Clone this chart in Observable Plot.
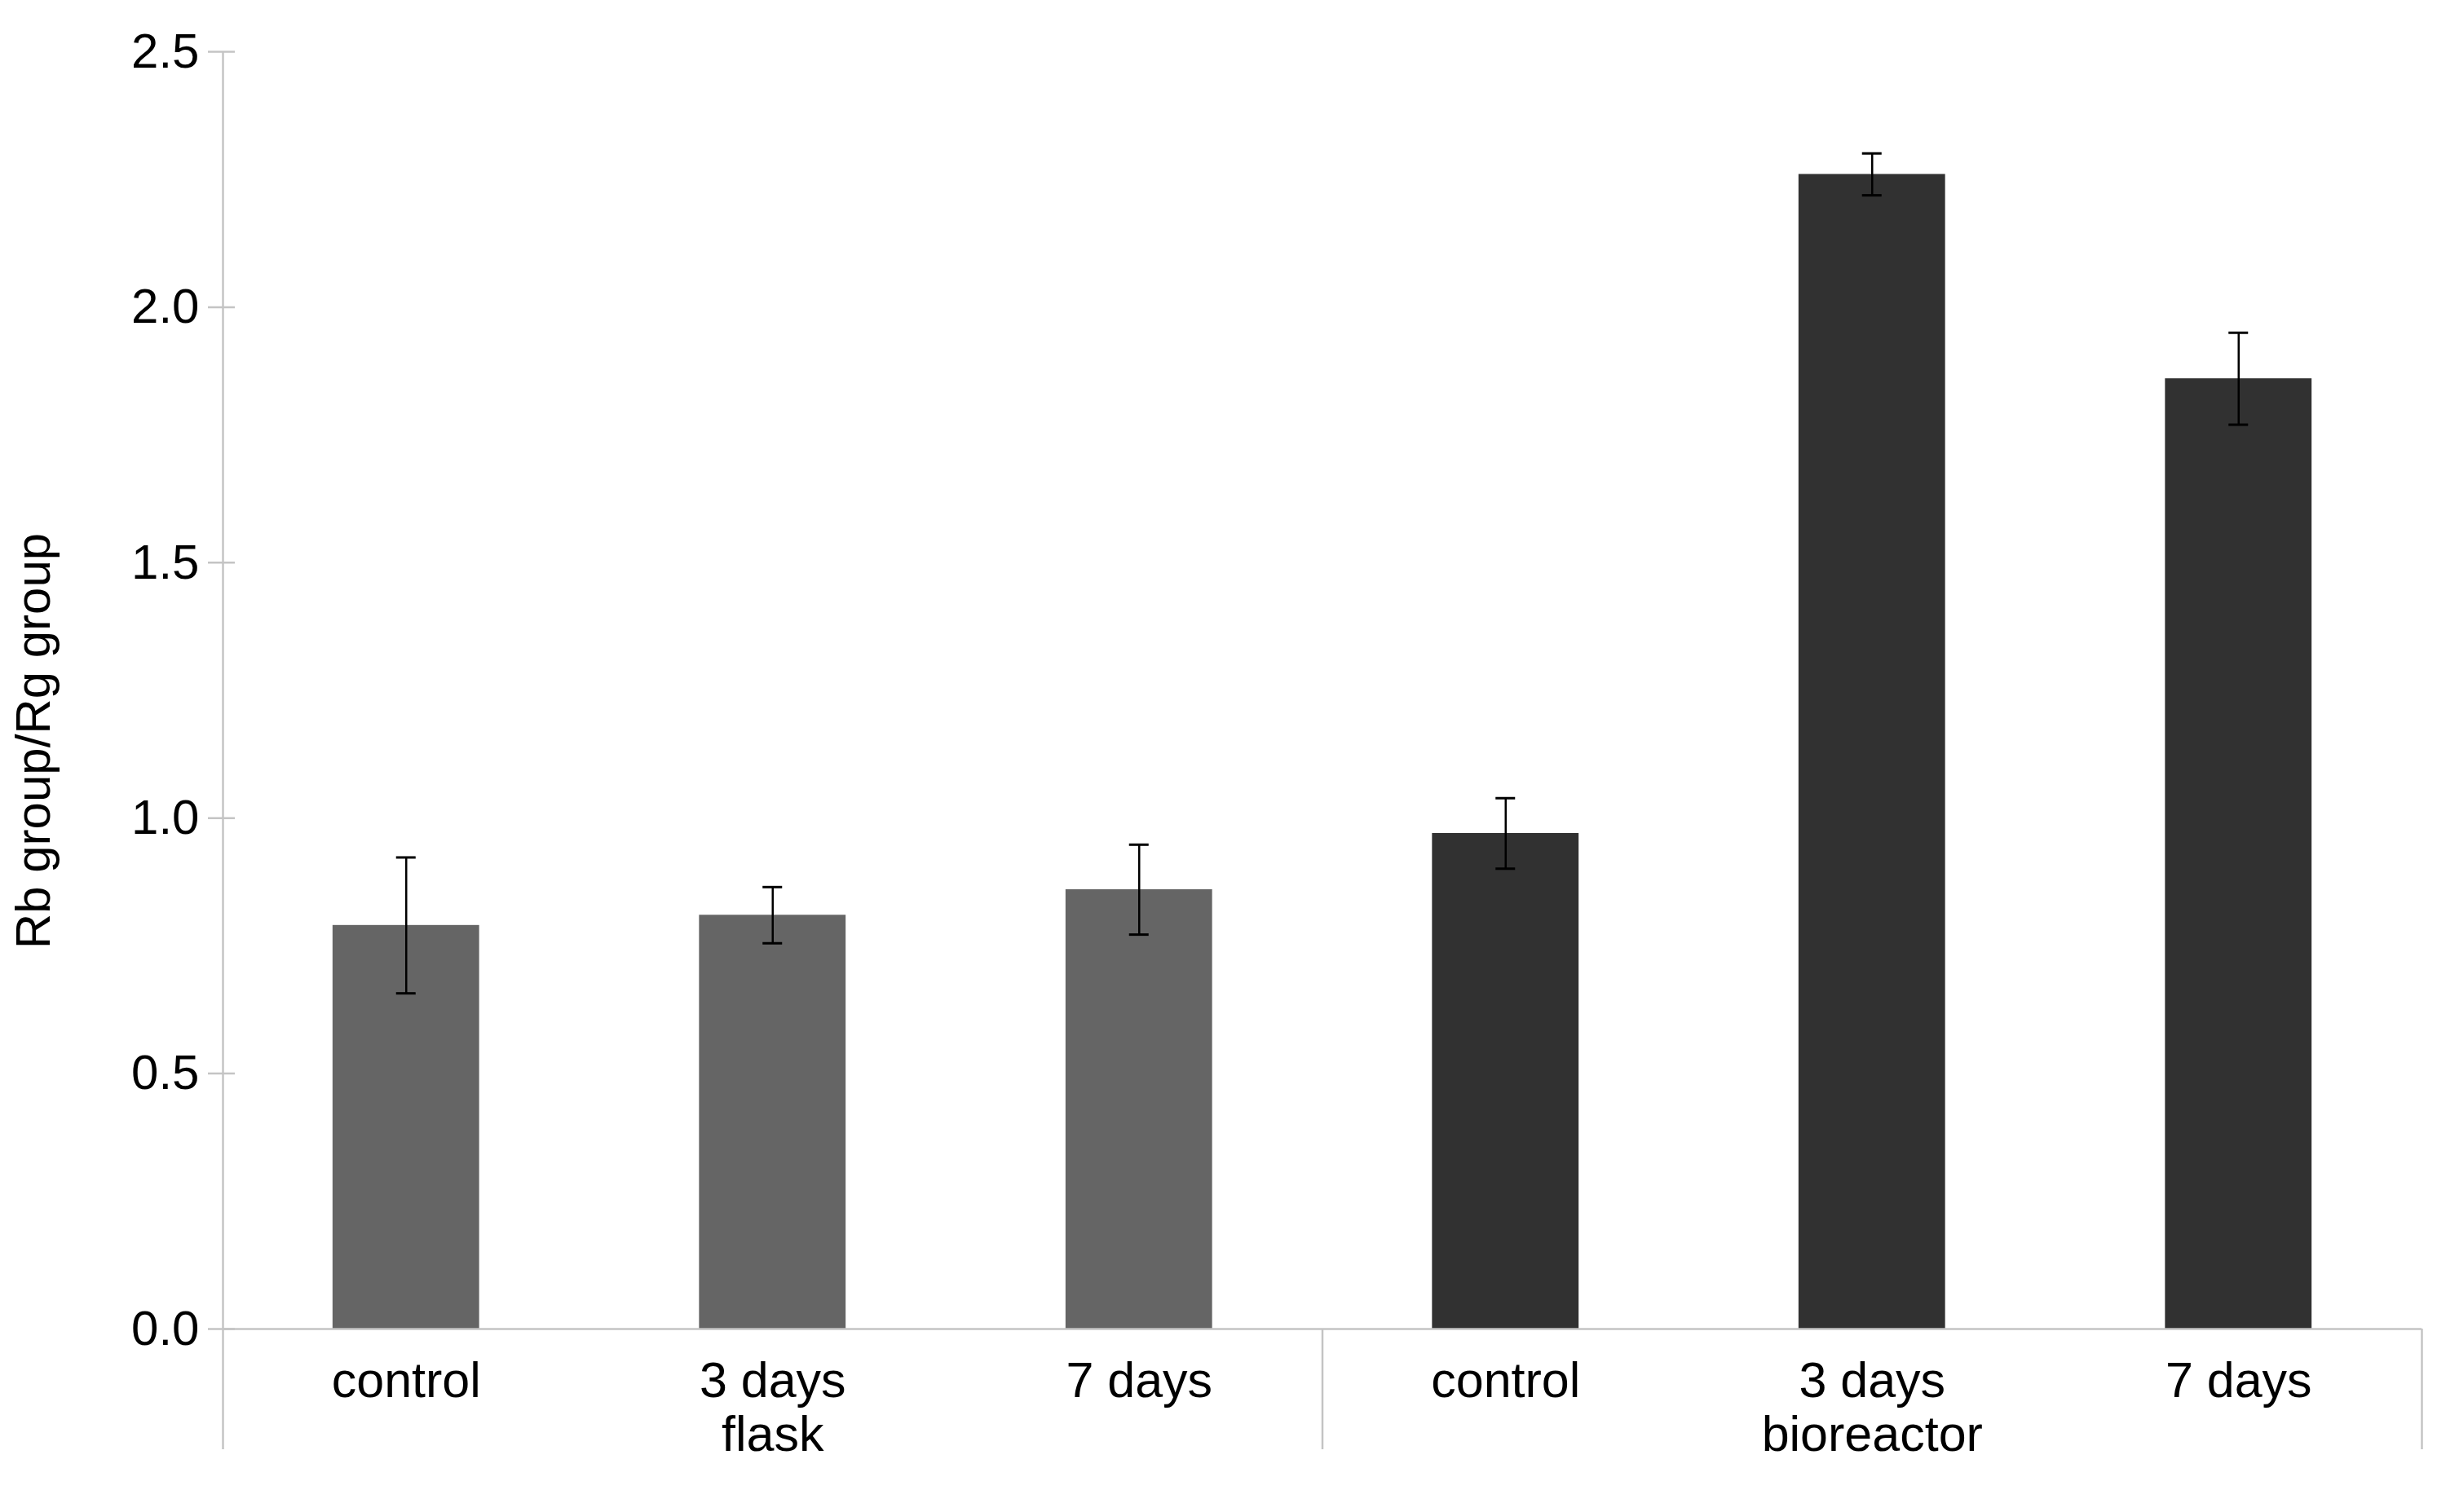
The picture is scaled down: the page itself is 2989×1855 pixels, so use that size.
<!DOCTYPE html>
<html>
<head>
<meta charset="utf-8">
<script src="https://cdn.jsdelivr.net/npm/d3@7"></script>
<script src="https://cdn.jsdelivr.net/npm/@observablehq/plot@0.6"></script>
<style>
  html, body { margin: 0; padding: 0; background: #ffffff; }
  #chart { width: 2989px; height: 1855px; }
</style>
</head>
<body>
<div id="chart"></div>
<script>
// ---- data ----
const groups = ["flask", "flask", "flask", "bioreactor", "bioreactor", "bioreactor"];
const times = ["control", "3 days", "7 days", "control", "3 days", "7 days"];
const values = [0.79, 0.81, 0.86, 0.97, 2.26, 1.86];
const errors = [0.133, 0.055, 0.088, 0.069, 0.041, 0.09];
const groupNames = ["flask", "bioreactor"];
const yTicks = [0.0, 0.5, 1.0, 1.5, 2.0, 2.5];
const yLabel = "Rb group/Rg group";

// ---- build table ----
const data = values.map((v, i) => ({
  i,
  group: groups[i],
  time: times[i],
  value: v,
  lo: v - errors[i],
  hi: v + errors[i]
}));

// label: time, plus group name under the middle bar of each group
const groupMiddle = new Map();
groupNames.forEach(g => {
  const idx = data.filter(d => d.group === g).map(d => d.i);
  groupMiddle.set(idx[Math.floor(idx.length / 2)], g);
});
const xLabels = data.map(d => ({
  i: d.i,
  text: groupMiddle.has(d.i) ? d.time + "\n" + groupMiddle.get(d.i) : d.time
}));

// group boundaries (in index units)
const boundaries = [];
groupNames.forEach(g => {
  const idx = data.filter(d => d.group === g).map(d => d.i);
  boundaries.push(Math.min(...idx) - 0.5);
  boundaries.push(Math.max(...idx) + 0.5);
});
const uniqueBoundaries = Array.from(new Set(boundaries));

const colorOf = { flask: "#656565", bioreactor: "#313131" };
const axisGrey = "#c4c4c4";
const font = "'Liberation Sans', Arial, Helvetica, sans-serif";
const half = 0.2;   // half bar width in category units
const n = data.length;
const xStart = -0.5;
const fmt = d3.format(".1f");

const chart = Plot.plot({
  width: 2989,
  height: 1855,
  marginTop: 63,
  marginBottom: 225,
  marginLeft: 273,
  marginRight: 19,
  style: { fontFamily: font, fontSize: "60px", color: "#000", background: "#fff" },
  x: { type: "linear", domain: [xStart, n - 0.5], axis: null },
  y: { domain: [0, 2.5], axis: null },
  marks: [
    // bars
    Plot.rectY(data, {
      x1: d => d.i - half,
      x2: d => d.i + half,
      y1: 0,
      y2: "value",
      fill: d => colorOf[d.group]
    }),
    // baseline
    Plot.ruleY([0], { stroke: axisGrey, strokeWidth: 2.5 }),
    // y axis line (extends below the baseline into the label area)
    Plot.ruleX([xStart], { stroke: axisGrey, strokeWidth: 2.5, insetBottom: -148 }),
    // group separators below baseline
    Plot.ruleX(uniqueBoundaries.filter(b => b > xStart), {
      x: d => d, y1: () => 0, y2: () => 0, insetBottom: -148, stroke: axisGrey, strokeWidth: 2.5
    }),
    // y ticks (crossing the axis)
    Plot.ruleY(yTicks, {
      y: d => d, x1: () => xStart, x2: () => xStart,
      insetLeft: -18, insetRight: -15, stroke: axisGrey, strokeWidth: 2.5
    }),
    // y tick labels
    Plot.text(yTicks, {
      y: d => d, x: () => xStart, text: d => fmt(d),
      textAnchor: "end", dx: -29, fontSize: 60, fill: "#000"
    }),
    // error bars
    Plot.ruleX(data, { x: "i", y1: "lo", y2: "hi", stroke: "#000", strokeWidth: 2.5 }),
    Plot.ruleY(data, { y: "hi", x1: "i", x2: "i", insetLeft: -12, insetRight: -12, stroke: "#000", strokeWidth: 3 }),
    Plot.ruleY(data, { y: "lo", x1: "i", x2: "i", insetLeft: -12, insetRight: -12, stroke: "#000", strokeWidth: 3 }),
    // x labels
    Plot.text(xLabels, {
      x: "i",
      y: () => 0,
      text: "text",
      lineAnchor: "top",
      lineHeight: 1.08,
      dy: 37,
      fontSize: 61,
      fill: "#000"
    }),
    // y axis title
    Plot.text([yLabel], {
      frameAnchor: "left",
      rotate: -90,
      textAnchor: "middle",
      lineAnchor: "bottom",
      dx: -213,
      dy: 62,
      fontSize: 60,
      fill: "#000"
    })
  ]
});

document.getElementById("chart").appendChild(chart);
</script>
</body>
</html>
